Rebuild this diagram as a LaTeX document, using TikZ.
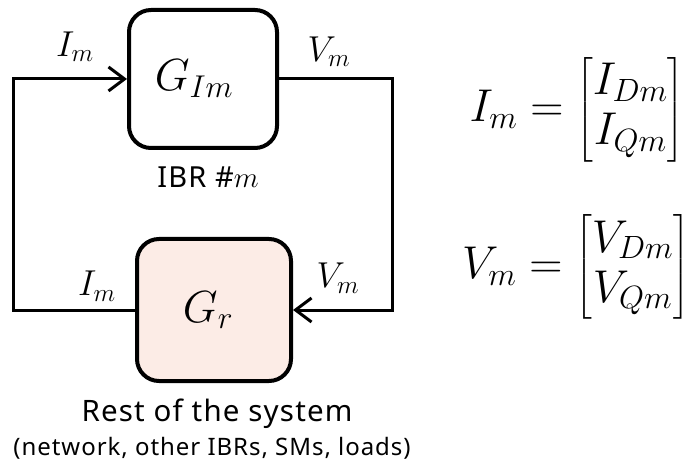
\documentclass[tikz,border=0pt]{standalone}
\usepackage{fix-cm}
\usepackage{amsmath}
\usepackage{fontspec}
\setsansfont{Noto Sans}[LetterSpace=4]
\usetikzlibrary{arrows.meta}
\definecolor{pinkfill}{HTML}{FCECE6}
\begin{document}
\begin{tikzpicture}[x=1pt,y=-1pt,
  blk/.style={draw=black, line width=4pt, rounded corners=22pt, inner sep=0pt},
  wire/.style={line width=3pt},
  tip/.style={-{Straight Barb[length=16pt,width=24pt,line width=3pt]}},
  lbl/.style={font=\fontsize{36}{40}\selectfont, inner sep=0pt},
  sfl/.style={font=\sffamily\fontsize{29}{32}\selectfont, inner sep=0pt},
  eq/.style={font=\fontsize{46}{50}\selectfont, inner sep=0pt}]
\useasboundingbox (0,0) rectangle (690,470);
\node[blk, minimum width=148pt, minimum height=138pt, font=\fontsize{45}{48}\selectfont] (gi) at (203,79) {$G_{Im}$\hspace*{18pt}};
\node[blk, fill=pinkfill, minimum width=154pt, minimum height=142pt, font=\fontsize{45}{48}\selectfont] (gr) at (214,310) {$G_r$\hspace*{12pt}};
\coordinate (tl) at (13,79);
\coordinate (tr) at (392,79);
\coordinate (bl) at (13,310);
\coordinate (br) at (392,310);
\draw[wire, tip] (gr.west) -- (bl) -- (tl) -- (gi.west);
\draw[wire, tip] (gi.east) -- (tr) -- (br) -- (gr.east);
\node[lbl] (li1) at (75,47) {$I_m$};
\node[lbl] (lv1) at (329,52) {$V_m$};
\node[lbl] (li2) at (97,286) {$I_m$};
\node[lbl] (lv2) at (338,278) {$V_m$};
\node[sfl] (ibr) at (208,177) {IBR \#$m$};
\node[sfl, font=\sffamily\fontsize{29.5}{32}\selectfont] (rest) at (217,414) {Rest of the system};
\node[font=\sffamily\fontsize{24}{28}\selectfont, inner sep=0pt] (rest2) at (212,448) {(network, other IBRs, SMs, loads)};
\node[eq] (eqi) at (577,110) {$I_m = \begin{bmatrix} I_{Dm}\\ I_{Qm}\end{bmatrix}$};
\node[eq] (eqv) at (576,267) {$V_m = \begin{bmatrix} V_{Dm}\\ V_{Qm}\end{bmatrix}$};
\end{tikzpicture}
\end{document}
